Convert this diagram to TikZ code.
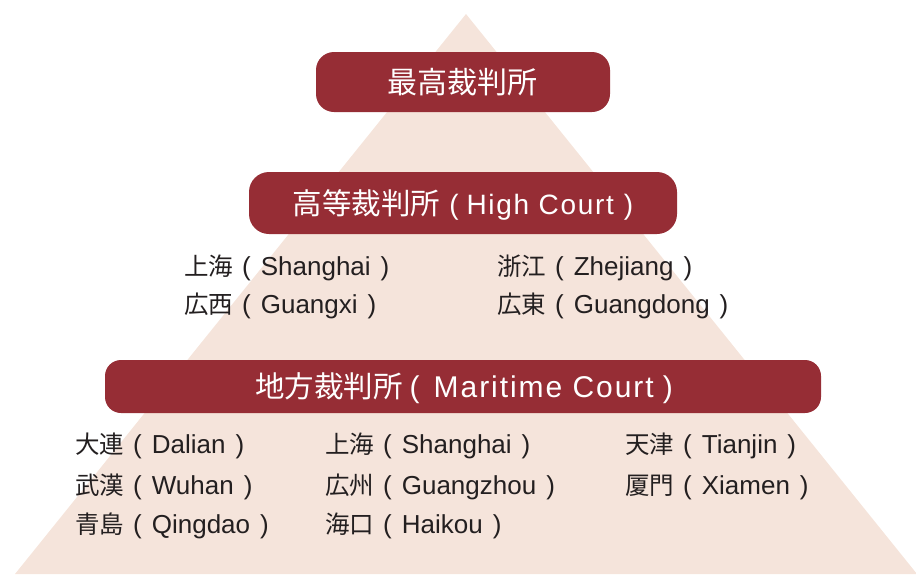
\documentclass[tikz,border=0pt]{standalone}
\usepackage{fontspec}
\setmainfont{Liberation Sans}
\newfontfamily\jpf{Noto Sans CJK JP}
\newfontfamily\latsp{Liberation Sans}[LetterSpace=6]
\newfontfamily\latspw{Liberation Sans}[LetterSpace=6.5]
\definecolor{tri}{HTML}{F5E4DB}
\definecolor{boxred}{HTML}{962D35}
\definecolor{txt}{HTML}{231F20}
\newcommand{\jp}[1]{{\jpf\fontsize{24.5}{27}\selectfont #1}}
\newcommand{\entry}[2]{\jp{#1}\hspace{9pt}(\hspace{10pt}#2\hspace{10pt})}
\begin{document}
\begin{tikzpicture}[x=1pt,y=-1pt,
  title/.style={text=white,inner sep=0pt},
  item/.style={anchor=west,text=txt,inner sep=0pt,font=\fontsize{26}{28}\selectfont}]
\useasboundingbox (0,0) rectangle (916,574);
\fill[tri] (466,14) -- (917,574) -- (15,574) -- cycle;
% boxes
\fill[boxred,rounded corners=18pt] (316,52) rectangle (610,112);
\fill[boxred,rounded corners=20pt] (249,172) rectangle (677,234);
\fill[boxred,rounded corners=16pt] (105,360) rectangle (821,413);
\node[title,font=\jpf\fontsize{30}{32}\selectfont] (sup) at (462,82) {最高裁判所};
\node[title] (high) at (463,205) {{\jpf\fontsize{29.5}{32}\selectfont 高等裁判所}\hspace{9pt}{\latsp\fontsize{28}{30}\selectfont(\hspace{8pt}High Court\hspace{10pt})}};
\node[title] (mar) at (464,388) {{\jpf\fontsize{29.5}{32}\selectfont 地方裁判所}\hspace{7pt}{\latspw\fontsize{30}{32}\selectfont(\hspace{14pt}Maritime Court\hspace{9pt})}};
% high court items
\node[item] (h1) at (184,268) {\entry{上海}{Shanghai}};
\node[item] (h2) at (184,306) {\entry{広西}{Guangxi}};
\node[item] (h3) at (497,268) {\entry{浙江}{Zhejiang}};
\node[item] (h4) at (497,306) {\entry{広東}{Guangdong}};
% maritime items
\node[item] (m1) at (75,446) {\entry{大連}{Dalian}};
\node[item] (m2) at (75,487) {\entry{武漢}{Wuhan}};
\node[item] (m3) at (75,526) {\entry{青島}{Qingdao}};
\node[item] (m4) at (325,446) {\entry{上海}{Shanghai}};
\node[item] (m5) at (325,487) {\entry{広州}{Guangzhou}};
\node[item] (m6) at (325,526) {\entry{海口}{Haikou}};
\node[item] (m7) at (625,446) {\entry{天津}{Tianjin}};
\node[item] (m8) at (625,487) {\entry{厦門}{Xiamen}};
\end{tikzpicture}
\end{document}
